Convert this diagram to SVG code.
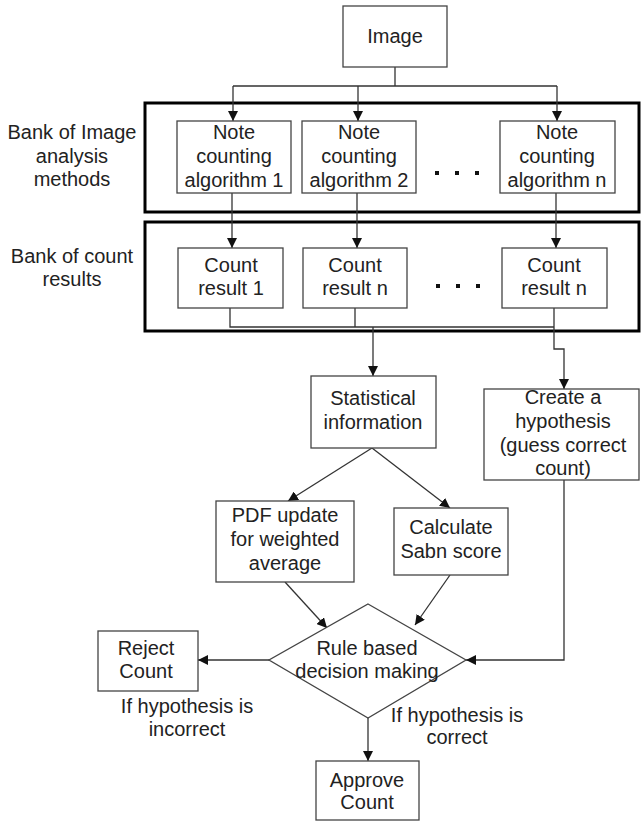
<svg xmlns="http://www.w3.org/2000/svg" width="642" height="822" viewBox="0 0 642 822">
<style>
.box{fill:#fff;stroke:#444;stroke-width:1.3}
.bank{fill:none;stroke:#000;stroke-width:3}
.t{font-family:"Liberation Sans",Arial,sans-serif;font-size:20px;fill:#222;text-anchor:middle}
.c{fill:none;stroke:#333;stroke-width:1.3}
.dot{fill:#111}
</style>
<defs>
<marker id="ah" markerUnits="userSpaceOnUse" markerWidth="12" markerHeight="10" refX="10" refY="5" orient="auto">
<path d="M0,0 L10,5 L0,10 Z" fill="#111"/>
</marker>
</defs>
<rect width="642" height="822" fill="#fff"/>
<g id="bank-methods">
<rect class="bank" x="145" y="103" width="494" height="109"/>
<text class="t" x="72" y="139">Bank of Image</text>
<text class="t" x="72" y="163">analysis</text>
<text class="t" x="72" y="186">methods</text>
</g>
<g id="bank-results">
<rect class="bank" x="145" y="222" width="494" height="109"/>
<text class="t" x="72" y="263">Bank of count</text>
<text class="t" x="72" y="286">results</text>
</g>
<g id="connectors">
<path class="c" d="M395,67 V86 M233,86 H557"/>
<path class="c" d="M233,86 V121" marker-end="url(#ah)"/>
<path class="c" d="M358,86 V121" marker-end="url(#ah)"/>
<path class="c" d="M557,86 V121" marker-end="url(#ah)"/>
<path class="c" d="M232,193 V248" marker-end="url(#ah)"/>
<path class="c" d="M357,193 V248" marker-end="url(#ah)"/>
<path class="c" d="M556,193 V248" marker-end="url(#ah)"/>
<path class="c" d="M230,308 V327 H554 M355,308 V327 M554,308 V327"/>
<path class="c" d="M373,327 V376" marker-end="url(#ah)"/>
<path class="c" d="M554,327 V349 H564 V389" marker-end="url(#ah)"/>
<path class="c" d="M372,448 L288,501" marker-end="url(#ah)"/>
<path class="c" d="M372,448 L450,508" marker-end="url(#ah)"/>
<path class="c" d="M285,582 L327,628" marker-end="url(#ah)"/>
<path class="c" d="M450,575 L415,625" marker-end="url(#ah)"/>
<path class="c" d="M564,480 V660 H466" marker-end="url(#ah)"/>
<path class="c" d="M269,660 H198" marker-end="url(#ah)"/>
<path class="c" d="M368,718 V761" marker-end="url(#ah)"/>
</g>
<g id="image">
<rect class="box" x="343" y="6" width="104" height="61"/>
<text class="t" x="395" y="43">Image</text>
</g>
<g id="algo1">
<rect class="box" x="177" y="121" width="114" height="72"/>
<text class="t" x="234" y="139">Note</text>
<text class="t" x="234" y="163">counting</text>
<text class="t" x="234" y="187">algorithm 1</text>
</g>
<g id="algo2">
<rect class="box" x="302" y="121" width="114" height="72"/>
<text class="t" x="359" y="139">Note</text>
<text class="t" x="359" y="163">counting</text>
<text class="t" x="359" y="187">algorithm 2</text>
</g>
<g id="algo-dots">
<rect class="dot" x="435" y="171" width="4" height="4"/>
<rect class="dot" x="455" y="171" width="4" height="4"/>
<rect class="dot" x="475" y="171" width="4" height="4"/>
</g>
<g id="algon">
<rect class="box" x="500" y="121" width="115" height="72"/>
<text class="t" x="557" y="139">Note</text>
<text class="t" x="557" y="163">counting</text>
<text class="t" x="557" y="187">algorithm n</text>
</g>
<g id="count1">
<rect class="box" x="178" y="248" width="105" height="60"/>
<text class="t" x="231" y="272">Count</text>
<text class="t" x="231" y="295">result 1</text>
</g>
<g id="count2">
<rect class="box" x="303" y="248" width="104" height="60"/>
<text class="t" x="355" y="272">Count</text>
<text class="t" x="355" y="295">result n</text>
</g>
<g id="count-dots">
<rect class="dot" x="436" y="284" width="4" height="4"/>
<rect class="dot" x="456" y="284" width="4" height="4"/>
<rect class="dot" x="476" y="284" width="4" height="4"/>
</g>
<g id="countn">
<rect class="box" x="502" y="248" width="105" height="60"/>
<text class="t" x="554" y="272">Count</text>
<text class="t" x="554" y="295">result n</text>
</g>
<g id="stat">
<rect class="box" x="311" y="376" width="125" height="72"/>
<text class="t" x="373" y="405">Statistical</text>
<text class="t" x="373" y="429">information</text>
</g>
<g id="hypothesis">
<rect class="box" x="484" y="389" width="155" height="91"/>
<text class="t" x="563" y="404">Create a</text>
<text class="t" x="563" y="428">hypothesis</text>
<text class="t" x="563" y="452">(guess correct</text>
<text class="t" x="563" y="475">count)</text>
</g>
<g id="pdf">
<rect class="box" x="216" y="501" width="138" height="81"/>
<text class="t" x="285" y="522">PDF update</text>
<text class="t" x="285" y="546">for weighted</text>
<text class="t" x="285" y="570">average</text>
</g>
<g id="calc">
<rect class="box" x="394" y="508" width="114" height="67"/>
<text class="t" x="451" y="534">Calculate</text>
<text class="t" x="451" y="558">Sabn score</text>
</g>
<g id="decision">
<polygon class="box" points="368,604 466,660 368,718 269,660"/>
<text class="t" x="367" y="655">Rule based</text>
<text class="t" x="367" y="678">decision making</text>
</g>
<g id="reject">
<rect class="box" x="98" y="631" width="100" height="60"/>
<text class="t" x="146" y="655">Reject</text>
<text class="t" x="146" y="678">Count</text>
</g>
<g id="approve">
<rect class="box" x="316" y="761" width="103" height="59"/>
<text class="t" x="367" y="787">Approve</text>
<text class="t" x="367" y="809">Count</text>
</g>
<g id="labels">
<text class="t" x="187" y="713">If hypothesis is</text>
<text class="t" x="187" y="736">incorrect</text>
<text class="t" x="457" y="722">If hypothesis is</text>
<text class="t" x="457" y="744">correct</text>
</g>
</svg>
